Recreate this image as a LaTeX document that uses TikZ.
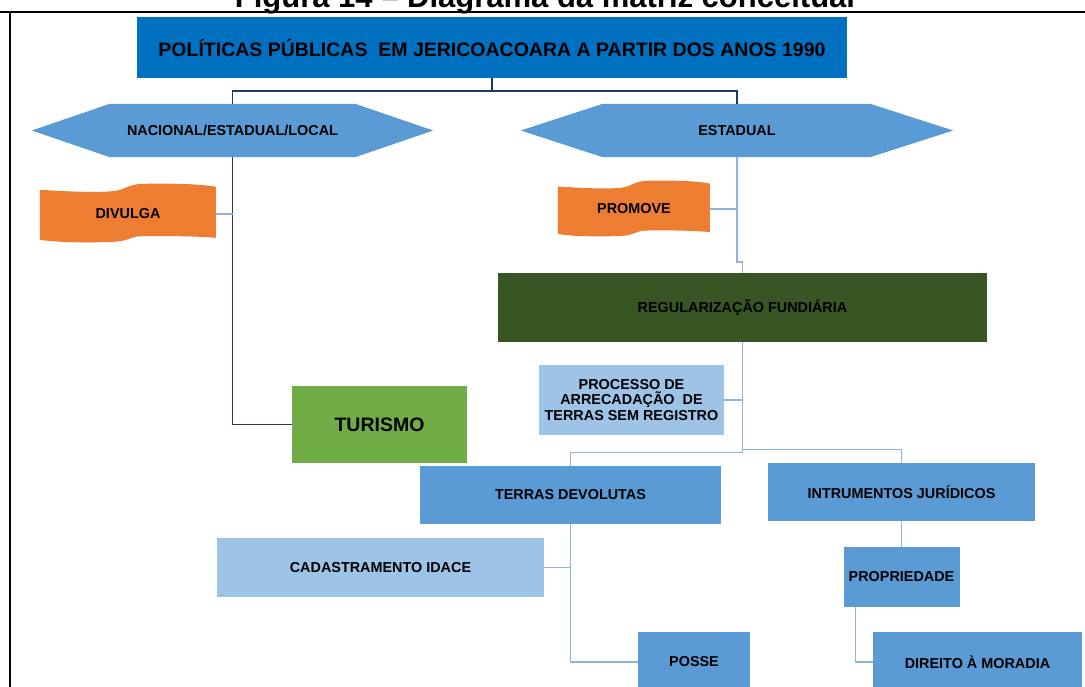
\documentclass[tikz,border=0pt]{standalone}
\usepackage{fontspec}
\setmainfont{Liberation Sans}
\usetikzlibrary{calc,backgrounds}
\definecolor{topblue}{HTML}{0070C0}
\definecolor{midblue}{HTML}{5B9BD5}
\definecolor{lightblue}{HTML}{9DC3E6}
\definecolor{orangec}{HTML}{ED7D31}
\definecolor{darkgreen}{HTML}{375623}
\definecolor{leafgreen}{HTML}{70AD47}
\definecolor{navyline}{HTML}{203864}
\definecolor{paleline}{HTML}{8FB4E3}
\newcommand{\wavefill}{%
  \fill[orangec] (0,7) .. controls (30,9) and (62,10) .. (76,8)
    .. controls (86,6.5) and (88,1.5) .. (104,1)
    .. controls (130,0.5) and (160,1) .. (176,4)
    -- (176,55) .. controls (150,53) and (115,53) .. (100,53.5)
    .. controls (90,54) and (88,58.5) .. (74,59)
    .. controls (50,60) and (20,60) .. (0,57) -- cycle;}
\begin{document}
\begin{tikzpicture}[x=1pt,y=-1pt,
  lbl/.style={font=\fontsize{14.4}{15.8}\selectfont\bfseries, text=black, inner sep=0pt, align=center},
  bx/.style 2 args={lbl, rectangle, minimum width=#1pt, minimum height=#2pt},
  navyc/.style={draw=navyline, line width=1.6pt},
  palec/.style={draw=paleline, line width=1.4pt},
  framec/.style={draw=black, line width=2.5pt}]
\useasboundingbox (0,0) rectangle (1085,687);

% title and frame
\node[anchor=base, font=\fontsize{31}{34}\selectfont\bfseries, inner sep=0pt] (title) at (545,8) {Figura 14 – Diagrama da matriz conceitual};
\coordinate (fa) at (0,12);
\coordinate (fb) at (1085,12);
\coordinate (fc) at (10,12);
\coordinate (fd) at (10,687);
\draw[framec] (fa) -- (fb);
\draw[framec] (fc) -- (fd);

% nodes
\node[bx={710}{61}, fill=topblue, font=\fontsize{19.5}{21}\selectfont\bfseries] (top) at (492,47.5) {POLÍTICAS PÚBLICAS\ \ EM JERICOACOARA A PARTIR DOS ANOS 1990};
\node[bx={401}{53}] (nac) at (232.5,130.5) {NACIONAL/ESTADUAL/LOCAL};
\node[bx={432}{53}] (est) at (737,130.5) {ESTADUAL};
\node[bx={176}{62}] (div) at (128,214) {DIVULGA};
\node[bx={152}{58}] (pro) at (634,209) {PROMOVE};
\node[bx={489}{69}, fill=darkgreen] (reg) at (742.5,307.5) {REGULARIZAÇÃO FUNDIÁRIA};
\node[bx={185}{70}, fill=lightblue] (proc) at (631.5,400) {PROCESSO DE\\ARRECADAÇÃO\ \ DE\\TERRAS SEM REGISTRO};
\node[bx={175}{77}, fill=leafgreen, font=\fontsize{19.5}{21}\selectfont\bfseries] (tur) at (379.5,424.5) {TURISMO};
\node[bx={301}{58}, fill=midblue] (ter) at (570.5,495) {TERRAS DEVOLUTAS};
\node[bx={267}{58}, fill=midblue] (ins) at (901.5,492) {INTRUMENTOS JURÍDICOS};
\node[bx={327}{59}, fill=lightblue] (cad) at (380.5,567.5) {CADASTRAMENTO IDACE};
\node[bx={116}{60}, fill=midblue] (prop) at (901.5,577) {PROPRIEDADE};
\node[bx={112}{60}, fill=midblue] (pos) at (694,662) {POSSE};
\node[bx={209}{60}, fill=midblue] (dir) at (977.5,662) {DIREITO À MORADIA};

% shapes behind the texts
\begin{scope}[on background layer]
  \fill[midblue] (nac.west) -- ($(nac.north west)+(78,0)$) -- ($(nac.north east)+(-78,0)$) -- (nac.east) -- ($(nac.south east)+(-78,0)$) -- ($(nac.south west)+(78,0)$) -- cycle;
  \fill[midblue] (est.west) -- ($(est.north west)+(82,0)$) -- ($(est.north east)+(-83,0)$) -- (est.east) -- ($(est.south east)+(-83,0)$) -- ($(est.south west)+(82,0)$) -- cycle;
\end{scope}
\begin{scope}[on background layer, shift={(div.north west)}]
  \wavefill
\end{scope}
\begin{scope}[on background layer, shift={(pro.north west)}, xscale=0.864, yscale=0.95]
  \wavefill
\end{scope}

% connectors
\draw[navyc] (top.south) -- ++(0,13) -| (nac.north);
\draw[navyc] (top.south) ++(0,13) -| (est.north);
\draw[navyc] (nac.south) |- (tur.west);
\draw[palec] (div.east) -- (div.east -| nac.south);
\draw[palec] (est.south) -- ++(0,105) -| (reg.north);
\draw[palec] (pro.east) -- (pro.east -| est.south);
\draw[palec] (reg.south) -- ++(0,110.5) -| (ter.north);
\draw[palec] (reg.south) ++(0,107) -| (ins.north);
\draw[palec] (proc.east) -- (proc.east -| reg.south);
\draw[palec] (ter.south) |- (pos.west);
\draw[palec] (cad.east) -- (cad.east -| ter.south);
\draw[palec] (ins.south) -- (prop.north);
\draw[palec] ($(prop.south west)+(12,0)$) |- (dir.west);
\end{tikzpicture}
\end{document}
